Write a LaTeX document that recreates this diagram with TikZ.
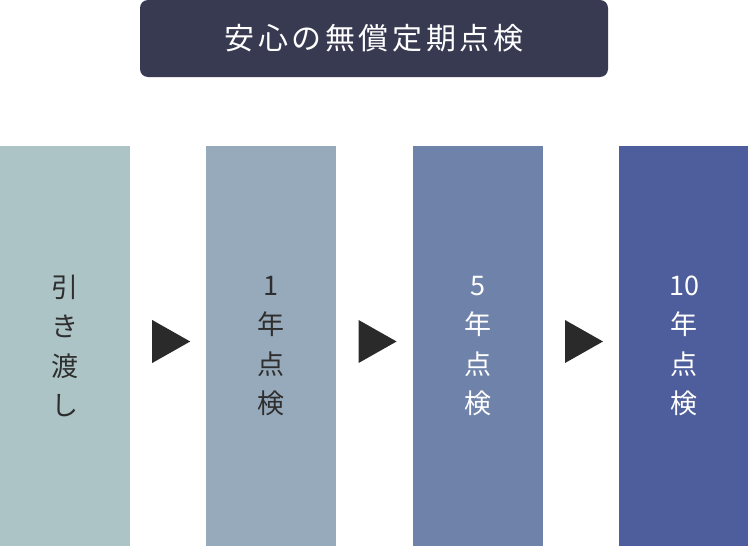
\documentclass[tikz,border=0pt]{standalone}
\usepackage{fontspec}
\newfontfamily\jpfont{Noto Sans CJK JP}
\newfontfamily\jptitlefont[LetterSpace=12]{Noto Sans CJK JP}
\usetikzlibrary{positioning, calc}
\definecolor{titlenavy}{HTML}{383A52}
\definecolor{stepA}{HTML}{ADC4C7}
\definecolor{stepB}{HTML}{97AABB}
\definecolor{stepC}{HTML}{6F82AA}
\definecolor{stepD}{HTML}{4E5D9B}
\definecolor{markgray}{HTML}{2A2A2A}
\definecolor{textdark}{HTML}{2E2E2E}

\begin{document}
\begin{tikzpicture}[
    x=1pt, y=-1pt,
    head/.style={rectangle, rounded corners=8pt, fill=titlenavy, text=white, inner sep=0pt, minimum width=468pt, minimum height=77pt, font=\jptitlefont\fontsize{30}{34}\selectfont},
    col/.style={rectangle, inner sep=0pt, minimum width=130pt, minimum height=400pt, align=center, font=\jpfont\fontsize{27}{39.5}\selectfont},
    marker/.style={fill=markgray}
]
\useasboundingbox (0,0) rectangle (748,546);

% Title
\node[head] (title) at (374,38.5) {安心の無償定期点検};

% Steps
\node[col, fill=stepA, text=textdark] (handover) at (65,346) {引\\き\\渡\\し};
\node[col, fill=stepB, text=textdark, right=76pt of handover] (year1) {1\\年\\点\\検};
\node[col, fill=stepC, text=white, right=76pt of year1] (year5) {5\\年\\点\\検};
\node[col, fill=stepD, text=white, right=76pt of year5] (year10) {10\\年\\点\\検};

% Markers between steps
\fill[marker, shift={($(handover.east)!0.5!(year1.west)$)}] (-16,-26) -- (22,-4.5) -- (-16,17) -- cycle;
\fill[marker, shift={($(year1.east)!0.5!(year5.west)$)}] (-16,-26) -- (22,-4.5) -- (-16,17) -- cycle;
\fill[marker, shift={($(year5.east)!0.5!(year10.west)$)}] (-16,-26) -- (22,-4.5) -- (-16,17) -- cycle;

\end{tikzpicture}
\end{document}
